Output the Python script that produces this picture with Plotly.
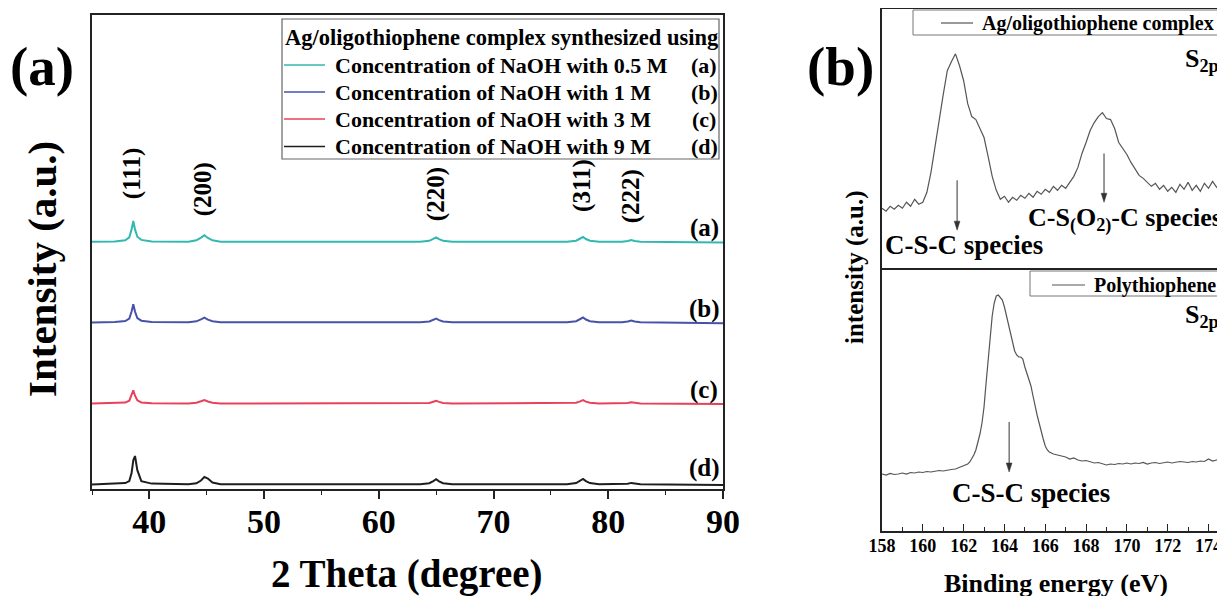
import plotly.graph_objects as go

W, H = 1225, 596
OFF = 8  # page body margin of the exported html
FONT = "Liberation Serif, Times New Roman, serif"

# ---------------- (a) XRD data ----------------
two_theta = [35.0, 37.0, 37.9, 38.25, 38.45, 38.6, 38.75, 38.95, 39.3, 40.2,
             43.4, 44.1, 44.5, 44.8, 45.1, 45.5, 46.2,
             63.6, 64.4, 64.75, 65.0, 65.25, 65.6, 66.4,
             76.4, 77.2, 77.55, 77.8, 78.05, 78.4, 79.2,
             81.2, 81.7, 82.0, 82.3, 82.8, 90.0]
xrd_a = [247.2, 247.4, 248.7, 251.6, 259.6, 268.0, 259.6, 252.3, 249.1, 247.6,
         247.3, 248.7, 251.4, 253.7, 251.0, 248.7, 247.3,
         247.2, 248.2, 250.1, 251.7, 249.8, 248.2, 247.2,
         247.3, 248.3, 250.3, 252.0, 250.0, 248.3, 247.3,
         247.2, 248.0, 249.0, 248.0, 247.2, 246.5]
xrd_b = [166.6, 166.9, 168.0, 170.5, 177.4, 184.7, 177.4, 171.0, 168.3, 167.0,
         166.7, 167.7, 169.6, 171.3, 169.4, 167.7, 166.7,
         166.7, 167.5, 169.1, 170.5, 168.9, 167.5, 166.7,
         166.8, 167.8, 169.8, 171.5, 169.5, 167.8, 166.8,
         166.7, 167.5, 168.5, 167.5, 166.7, 165.8]
xrd_c = [85.4, 85.6, 86.4, 88.3, 93.3, 98.7, 93.3, 88.7, 86.6, 85.7,
         85.5, 86.2, 87.7, 89.0, 87.5, 86.2, 85.5,
         85.5, 86.0, 87.3, 88.3, 87.1, 86.0, 85.5,
         85.5, 86.2, 87.6, 88.8, 87.4, 86.2, 85.5,
         85.5, 86.1, 86.8, 86.1, 85.5, 84.9]
xrd_d = [4.6, 5.1, 5.9, 7.9, 15.9, 28.7, 33.0, 18.8, 7.9, 5.4,
         4.8, 5.7, 8.5, 12.1, 10.5, 6.5, 4.8,
         4.8, 5.8, 7.9, 9.8, 7.7, 5.8, 4.8,
         4.8, 5.9, 8.1, 10.1, 7.9, 5.9, 4.8,
         4.7, 5.3, 6.1, 5.3, 4.7, 4.0]
legend_title = "Ag/oligothiophene complex synthesized using"
series_names = ["Concentration of NaOH with 0.5 M", "Concentration of NaOH with 1 M",
                "Concentration of NaOH with 3 M", "Concentration of NaOH with 9 M"]
series_tags = ["(a)", "(b)", "(c)", "(d)"]
series_colors = ["#33b8b1", "#4653a8", "#e8425a", "#1e1e1e"]
hkl_labels = ["(111)", "(200)", "(220)", "(311)", "(222)"]
hkl_pos = [38.5, 44.7, 65.0, 77.7, 82.0]

# ---------------- (b) XPS S2p data ----------------
be_top = [158.0, 158.2, 158.4, 158.6, 158.8, 159.0, 159.2, 159.4, 159.6, 159.8,
          160.0, 160.2, 160.4, 160.6, 160.8, 161.0, 161.2, 161.4, 161.6, 161.8,
          162.0, 162.2, 162.4, 162.6, 162.8, 163.0, 163.2, 163.4, 163.6, 163.8,
          164.0, 164.2, 164.4, 164.6, 164.8, 165.0, 165.2, 165.4, 165.6, 165.8,
          166.0, 166.2, 166.4, 166.6, 166.8, 167.0, 167.2, 167.4, 167.6, 167.8,
          168.0, 168.2, 168.4, 168.6, 168.8, 169.0, 169.2, 169.4, 169.6, 169.8,
          170.0, 170.2, 170.4, 170.6, 170.8, 171.0, 171.2, 171.4, 171.6, 171.8,
          172.0, 172.2, 172.4, 172.6, 172.8, 173.0, 173.2, 173.4, 173.6, 173.8,
          174.0, 174.2, 174.4, 174.6, 174.8, 175.0, 175.2]
int_complex = [60, 57, 62, 59, 63, 60, 66, 62, 69, 64,
               66, 76, 96, 120, 148, 174, 198, 207, 215, 203,
               188, 165, 152, 149, 140, 131, 112, 92, 78, 69,
               72, 66, 71, 68, 73, 70, 75, 71, 77, 74,
               79, 76, 82, 78, 83, 80, 86, 92, 101, 115,
               126, 138, 146, 152, 156, 150, 149, 140, 126, 120,
               114, 106, 100, 93, 90, 86, 82, 85, 79, 83,
               77, 81, 76, 84, 79, 86, 78, 83, 77, 85,
               80, 87, 81, 84, 80, 83, 81]
be_bottom = [158.0, 158.2, 158.4, 158.6, 158.8, 159.0, 159.2, 159.4, 159.6, 159.8,
             160.0, 160.2, 160.4, 160.6, 160.8, 161.0, 161.2, 161.4, 161.6, 161.8,
             162.0, 162.2, 162.3, 162.4, 162.5, 162.6, 162.7, 162.8, 162.9, 163.0,
             163.1, 163.2, 163.3, 163.4, 163.5, 163.6, 163.7, 163.8, 163.9, 164.0,
             164.1, 164.2, 164.3, 164.4, 164.5, 164.6, 164.7, 164.8, 164.9, 165.0,
             165.1, 165.2, 165.3, 165.4, 165.5, 165.6, 165.7, 165.8, 165.9, 166.0,
             166.1, 166.2, 166.4, 166.6, 166.8, 167.0, 167.2, 167.4, 167.6, 167.8,
             168.0, 168.2, 168.4, 168.6, 168.8, 169.0, 169.2, 169.4, 169.6, 169.8,
             170.0, 170.2, 170.4, 170.6, 170.8, 171.0, 171.2, 171.4, 171.6, 171.8,
             172.0, 172.2, 172.4, 172.6, 172.8, 173.0, 173.2, 173.4, 173.6, 173.8,
             174.0, 174.2, 174.4, 174.6, 174.8, 175.0, 175.2]
int_poly = [57, 56, 57.5, 56.5, 57, 58, 57, 58.5, 58, 59,
            58.5, 59.5, 59, 60, 60.5, 60, 61, 61.5, 62, 63.5,
            65, 67, 69, 72, 76, 81, 88, 97, 108, 124,
            148, 172, 196, 215, 228, 235, 236, 234, 231, 224,
            215, 206, 198, 188, 180, 176, 174, 174, 172, 164,
            157, 151, 145, 135, 124, 116, 108, 99, 92, 85,
            81, 79, 77, 76, 75, 74, 72, 73, 71, 70,
            70.5, 69, 68, 68.5, 67, 66, 67, 66.5, 67.5, 67,
            68, 67, 68, 67.5, 68.5, 67, 68, 68.5, 67.5, 68,
            69, 68, 68.5, 69.5, 69, 68.5, 69.5, 69, 70, 69.5,
            72, 70, 71, 71.5, 71, 72, 71.5]
xps_names = ["Ag/oligothiophene complex", "Polythiophene"]
xps_color = "#555555"
# arrows (binding energy, head intensity, tail intensity)
arrows_top = [(161.68, 38, 88), (168.88, 66, 115)]
arrows_bottom = [(164.23, 59, 109)]


def px(x):
    return min(1.0, max(0.0, (x - OFF) / W))


def py(y):
    return min(1.0, max(0.0, 1 - (y - OFF) / H))


fig = go.Figure()

for name, ys, col in zip(series_names, [xrd_a, xrd_b, xrd_c, xrd_d], series_colors):
    fig.add_trace(go.Scatter(x=two_theta, y=ys, mode="lines", name=name,
                             line=dict(color=col, width=2),
                             xaxis="x", yaxis="y", showlegend=False))

fig.add_trace(go.Scatter(x=be_top, y=int_complex, mode="lines", name=xps_names[0],
                         line=dict(color=xps_color, width=1.2), xaxis="x2", yaxis="y2",
                         showlegend=False))
fig.add_trace(go.Scatter(x=be_bottom, y=int_poly, mode="lines", name=xps_names[1],
                         line=dict(color=xps_color, width=1.2), xaxis="x3", yaxis="y3",
                         showlegend=False))

axis_common = dict(showgrid=False, zeroline=False, showline=True, linecolor="#222",
                   linewidth=1.6, automargin=False)

fig.update_layout(
    width=W, height=H,
    margin=dict(l=0, r=0, t=0, b=0, autoexpand=False),
    paper_bgcolor="white", plot_bgcolor="white",
    font=dict(family=FONT, color="black", weight="bold"),
    xaxis=dict(domain=[px(92), px(723)], range=[35, 90], anchor="y",
               tickmode="linear", tick0=40, dtick=10, ticks="outside", ticklen=8,
               tickwidth=1.5, tickcolor="#222", mirror=True,
               minor=dict(ticks="outside", ticklen=4, dtick=5, tick0=35, tickcolor="#222", tickwidth=1.2),
               tickfont=dict(size=34, family=FONT, color="black", weight="bold"),
               ticklabelstandoff=-7, **axis_common),
    yaxis=dict(domain=[py(489), py(15)], range=[0, 474], anchor="x",
               showticklabels=False, ticks="", mirror=True, **axis_common),
    xaxis2=dict(domain=[px(882), 1.0], range=[158, 175.2], anchor="y2",
                showticklabels=False, ticks="", mirror=True, **axis_common),
    yaxis2=dict(domain=[py(268), py(9)], range=[0, 260], anchor="x2",
                showticklabels=False, ticks="", **axis_common),
    xaxis3=dict(domain=[px(882), 1.0], range=[158, 175.2], anchor="y3",
                tickmode="linear", tick0=158, dtick=2, ticks="inside", ticklen=7,
                tickwidth=1.2, tickcolor="#222",
                minor=dict(ticks="inside", ticklen=4, dtick=1, tick0=158, tickcolor="#222", tickwidth=1),
                tickfont=dict(size=18, family=FONT, color="black", weight="bold"),
                ticklabelstandoff=-2, **axis_common),
    yaxis3=dict(domain=[py(531), py(268)], range=[0, 263], anchor="x3",
                showticklabels=False, ticks="", **axis_common),
)

shapes = [
    # legend frames
    dict(type="rect", xref="paper", yref="paper", x0=px(282), x1=px(719), y0=py(159), y1=py(19),
         line=dict(color="#666", width=1.2)),
    dict(type="rect", xref="paper", yref="paper", x0=px(913), x1=1.02, y0=py(35), y1=py(10),
         line=dict(color="#777", width=1)),
    dict(type="rect", xref="paper", yref="paper", x0=px(1030), x1=1.02, y0=py(296), y1=py(271),
         line=dict(color="#777", width=1)),
    dict(type="line", xref="paper", yref="paper", x0=px(941), x1=px(973), y0=py(23), y1=py(23),
         line=dict(color=xps_color, width=1.2)),
    dict(type="line", xref="paper", yref="paper", x0=px(1052), x1=px(1085), y0=py(285), y1=py(285),
         line=dict(color=xps_color, width=1.2)),
]
for col, yy in zip(series_colors, [65, 92, 119, 146.5]):
    shapes.append(dict(type="line", xref="paper", yref="paper", x0=px(284), x1=px(325),
                       y0=py(yy), y1=py(yy), line=dict(color=col, width=1.6)))
for xr, yr, specs in [("x2", "y2", arrows_top), ("x3", "y3", arrows_bottom)]:
    for xv, yh, yt in specs:
        shapes.append(dict(type="line", xref=xr, yref=yr, x0=xv, x1=xv, y0=yt, y1=yh + 6,
                           line=dict(color="#333", width=1)))
        shapes.append(dict(type="path", xref=xr, yref=yr,
                           path=f"M {xv - 0.14} {yh + 9} L {xv + 0.14} {yh + 9} L {xv} {yh} Z",
                           fillcolor="#333", line=dict(color="#333", width=0.5)))
fig.update_layout(shapes=shapes)

ann = []


def text(x, y, t, size, angle=0, xanchor="center", xref="paper", yref="paper"):
    ann.append(dict(x=x, y=y, xref=xref, yref=yref, text=t, showarrow=False,
                    textangle=angle, xanchor=xanchor, yanchor="middle",
                    font=dict(size=size, family=FONT, color="black", weight="bold")))


text(px(42), py(66), "(a)", 55)
text(px(840), py(66), "(b)", 55)
text(px(42), py(269), "Intensity (a.u.)", 41, angle=-90)
text(px(407), py(574), "2 Theta (degree)", 39)
# legend of (a)
text(px(283), py(38), legend_title, 22.5, xanchor="left")
for name, tag, yy in zip(series_names, series_tags, [65, 92, 119, 146.5]):
    text(px(333), py(yy), name, 22, xanchor="left")
    text(px(704), py(yy), tag, 22)
for tag, yy in zip(series_tags, [228, 309, 390, 468]):
    text(px(704), py(yy), tag, 25)
for lab, pos, yy in zip(hkl_labels, hkl_pos, [174, 189, 194, 185, 196]):
    ann.append(dict(x=pos, y=py(yy), xref="x", yref="paper", text=lab, showarrow=False,
                    textangle=-90, xanchor="center", yanchor="middle",
                    font=dict(size=25, family=FONT, color="black", weight="bold")))

# (b) texts
text(px(980), py(23), xps_names[0], 20, xanchor="left")
text(px(1092), py(285), xps_names[1], 20, xanchor="left")
text(px(855), py(268), "intensity (a.u.)", 25, angle=-90)
text(px(1056), py(583), "Binding energy (eV)", 26)
text(px(1183), py(60), "S<sub>2p</sub>", 26, xanchor="left")
text(px(1183), py(316), "S<sub>2p</sub>", 26, xanchor="left")
text(px(883), py(245), "C-S-C species", 27, xanchor="left")
text(px(1026), py(219), "C-S<sub>(</sub>O<sub>2)</sub>-C species", 26, xanchor="left")
text(px(950), py(493), "C-S-C species", 27, xanchor="left")

fig.update_layout(annotations=ann)

fig.write_html("out.html")
